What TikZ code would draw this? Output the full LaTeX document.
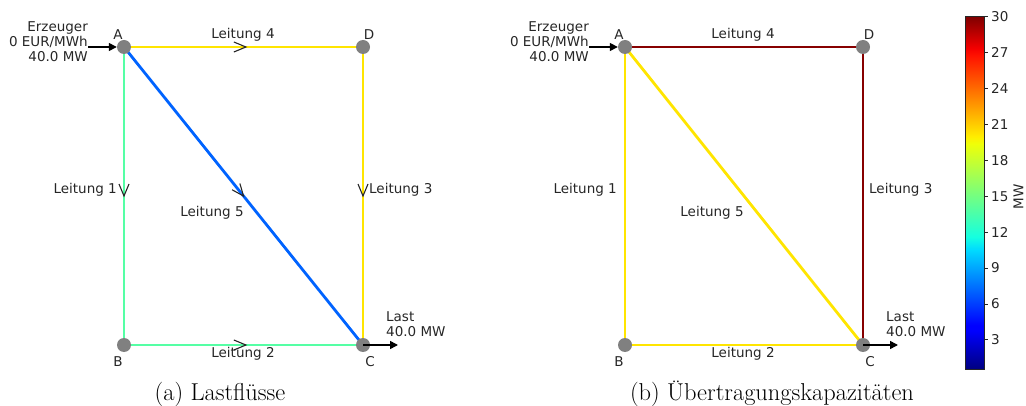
\documentclass[tikz,border=0pt]{standalone}
\usepackage{fontspec}
\setsansfont{DejaVu Sans}
\usetikzlibrary{calc,arrows.meta}
\pgfdeclarelayer{bg}
\pgfsetlayers{bg,main}
\pgfdeclareverticalshading{jetmap}{100bp}{rgb(0bp)=(0,0,0.5); rgb(25bp)=(0,0,0.5); rgb(30.5bp)=(0,0,1); rgb(31.25bp)=(0,0,1); rgb(42bp)=(0,0.86,1); rgb(43.75bp)=(0.08,1,0.88); rgb(50bp)=(0.48,1,0.48); rgb(57bp)=(0.94,1,0.03); rgb(58bp)=(1,0.93,0); rgb(69.5bp)=(1,0.07,0); rgb(70.5bp)=(0.96,0,0); rgb(75bp)=(0.5,0,0); rgb(100bp)=(0.5,0,0)}
\definecolor{busgray}{RGB}{128,128,128}
\definecolor{jblue}{RGB}{0,99,255}
\definecolor{jgreen}{RGB}{85,255,165}
\definecolor{jyellow}{RGB}{255,229,0}
\definecolor{jdred}{RGB}{135,0,0}
\newcommand\mychev[2]{\draw[chev] ($(#2)!13pt!22.6:(#1)$) -- (#2) -- ($(#2)!13pt!-22.6:(#1)$);}
\begin{document}
\begin{tikzpicture}[x=1pt,y=-1pt,
  bus/.style={circle,fill=busgray,draw=none,inner sep=0pt,minimum size=14pt},
  lbl/.style={font=\sffamily\fontsize{13.5}{15}\selectfont,inner sep=0pt,text=black!85},
  pline/.style={line width=2.8pt},
  chev/.style={line width=1.1pt,black!85},
  feed/.style={line width=1.5pt,black,-{Triangle[length=8pt,width=8pt]}},
  capt/.style={font=\fontsize{24.4}{28}\selectfont,inner sep=0pt,anchor=base}]
\useasboundingbox (0,0) rectangle (1026,406);
% ---------- panel (a)
\node[bus] (A) at (124,47) {};
\node[bus] (D) at (363,47) {};
\node[bus] (B) at (124,345) {};
\node[bus] (C) at (363,345) {};
\begin{pgfonlayer}{bg}
\draw[pline,jyellow] (A.center) -- (D.center);
\draw[pline,jyellow] (D.center) -- (C.center);
\draw[pline,jgreen] (A.center) -- (B.center);
\draw[pline,jgreen] (B.center) -- (C.center);
\draw[pline,jblue] (A.center) -- (C.center);
\end{pgfonlayer}
\coordinate (t4) at ($(A)!0.51!(D)$);
\coordinate (t3) at ($(D)!0.5!(C)$);
\coordinate (t1) at ($(A)!0.5!(B)$);
\coordinate (t2) at ($(B)!0.51!(C)$);
\coordinate (t5) at ($(A)!0.5!(C)$);
\mychev{A}{t4}\mychev{D}{t3}\mychev{A}{t1}\mychev{B}{t2}\mychev{A}{t5}
\node[lbl] (lA) at (118,35) {A};
\node[lbl] (lD) at (369,35) {D};
\node[lbl] (lB) at (118,362) {B};
\node[lbl] (lC) at (370,362) {C};
\node[lbl] (l4) at (243,35) {Leitung 4};
\node[lbl,anchor=east] (l1) at (117,190) {Leitung 1};
\node[lbl,anchor=west] (l3) at (369,190) {Leitung 3};
\node[lbl] (l5) at (212,213) {Leitung 5};
\node[lbl] (l2) at (243,354) {Leitung 2};
\node[lbl,align=right,anchor=east] (gen) at (88,42) {Erzeuger\\0 EUR/MWh\\40.0 MW};
\coordinate (gs) at (88,47);
\draw[feed] (gs) -- (A.west);
\node[lbl,align=left,anchor=west] (load) at (386,324) {Last\\40.0 MW};
\coordinate (le) at (398,345);
\draw[feed] (C.center) -- (le);
\node[capt] (capa) at (220,400) {(a) Lastflüsse};
% ---------- panel (b)
\node[bus] (A2) at (625,47) {};
\node[bus] (D2) at (863,47) {};
\node[bus] (B2) at (625,345) {};
\node[bus] (C2) at (863,345) {};
\begin{pgfonlayer}{bg}
\draw[pline,jdred] (A2.center) -- (D2.center);
\draw[pline,jdred] (D2.center) -- (C2.center);
\draw[pline,jyellow] (A2.center) -- (B2.center);
\draw[pline,jyellow] (B2.center) -- (C2.center);
\draw[pline,jyellow] (A2.center) -- (C2.center);
\end{pgfonlayer}
\node[lbl] (lA2) at (619,35) {A};
\node[lbl] (lD2) at (869,35) {D};
\node[lbl] (lB2) at (619,362) {B};
\node[lbl] (lC2) at (870,362) {C};
\node[lbl] (m4) at (743,35) {Leitung 4};
\node[lbl,anchor=east] (m1) at (617,190) {Leitung 1};
\node[lbl,anchor=west] (m3) at (869,190) {Leitung 3};
\node[lbl] (m5) at (712,213) {Leitung 5};
\node[lbl] (m2) at (743,354) {Leitung 2};
\node[lbl,align=right,anchor=east] (gen2) at (589,42) {Erzeuger\\0 EUR/MWh\\40.0 MW};
\coordinate (gs2) at (589,47);
\draw[feed] (gs2) -- (A2.west);
\node[lbl,align=left,anchor=west] (load2) at (886,324) {Last\\40.0 MW};
\coordinate (le2) at (898,345);
\draw[feed] (C2.center) -- (le2);
\node[capt] (capb) at (772,400) {(b) Übertragungskapazitäten};
% ---------- colour bar
\shade[shading=jetmap] (965.5,16.7) rectangle (984,369.3);
\draw[line width=0.8pt,black!85] (965.5,16.7) rectangle (984,369.3);
\foreach \v in {3,6,...,30}{
  \draw[line width=0.8pt,black!85] (984,{16.7+(30-\v)*11.97}) -- ++(4,0);
  \node[lbl,anchor=west] at (991,{16.7+(30-\v)*11.97}) {\v};
}
\node[lbl,rotate=90] (mw) at (1018.5,197) {MW};
\end{tikzpicture}
\end{document}
